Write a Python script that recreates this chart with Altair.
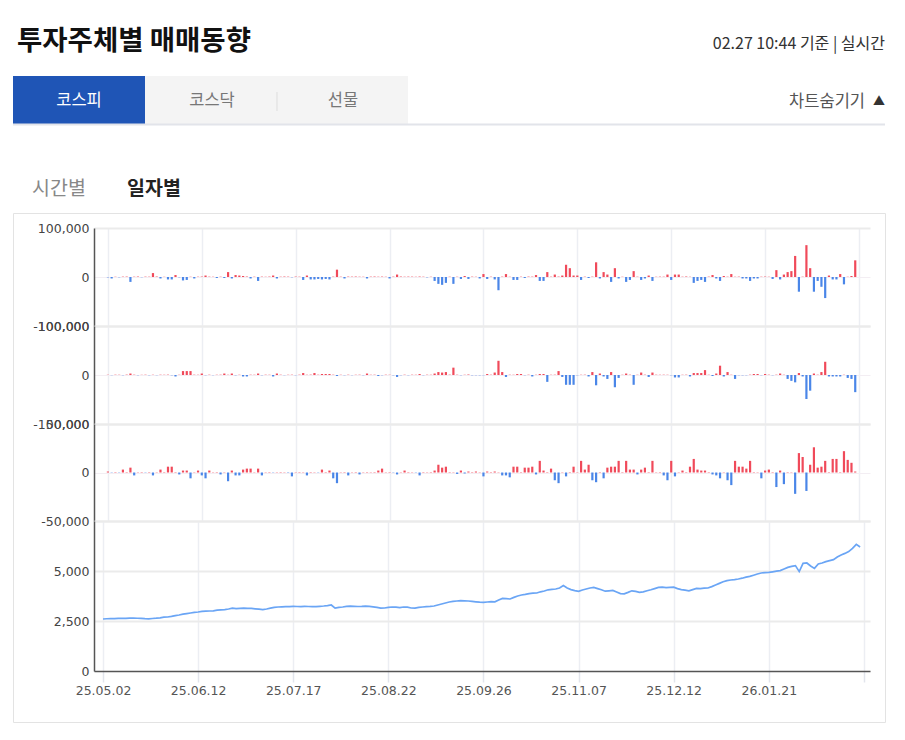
import altair as alt
import pandas as pd

# ---------------- data ----------------
tick_labels = ["25.05.02", "25.06.12", "25.07.17", "25.08.22", "25.09.26",
               "25.11.07", "25.12.12", "26.01.21", ""]
tick_step = 25

# panel 1 (top bars)
p1 = [
    -800, -3000, 500, -600, 700, 800, -10000, 600, 900, -500,
    700, 600, 8000, 900, -3000, 400, -5000, -5000, 4000, -700,
    -7000, -6000, 500, -3000, 600, 800, 3000, 700, 500, -2000,
    600, -2000, 10000, -3000, 4000, 3000, 2000, 900, -3000, 600,
    -8000, 700, 500, 800, 3000, -3000, 600, 900, 700, -600,
    800, 600, -6000, 3000, -5000, -5000, -4000, -5000, -4000, -5000,
    700, 15000, 600, -3000, 800, 700, 900, 600, 500, -3000,
    700, 900, 600, 800, 500, -3000, 700, 5000, 900, 600,
    800, 700, 500, 900, 600, -700, 500, -8000, -14000, -16000,
    -12000, 600, -14000, 500, -4000, 2000, -4000, 700, 500, -3000,
    6000, -4000, 600, -5000, -27000, 700, 6000, 500, -6000, -6000,
    600, -2000, 800, 700, 4000, -8000, -8000, 10000, 600, 5000,
    800, 3000, 25000, 18000, 3000, 3000, -6000, 600, -2000, 700,
    30000, -3000, 10000, 5000, -10000, 18000, -3000, 500, -10000, -6000,
    12000, 600, -6000, -3000, 3000, -8000, 500, 700, 600, 5000,
    -6000, 5000, 5000, 600, 1000, 500, -12000, -8000, -6000, -10000,
    700, 4000, -3000, -8000, 2000, 600, 6000, 500, 700, -3000,
    -3000, -8000, -3000, -3000, 600, 800, 500, -4000, 14000, -5000,
    5000, 10000, 12000, 43000, -30000, 600, 65000, 18000, -30000, -8000,
    -20000, -43000, 3000, -5000, -5000, 6000, -15000, 500, 2000, 34000,
]

# panel 2 (middle bars)
p2 = [
    500, -400, 600, 500, -500, 700, 3000, 600, -500, 400,
    600, -500, 500, -400, 600, 500, 700, -600, -3000, 500,
    8000, 8000, 8000, 600, 500, 3000, -500, 600, -400, 500,
    600, 3000, 500, 3000, -600, 500, -3000, -3000, 600, 500,
    3000, -500, 600, 500, -3000, 3000, 600, -400, 500, 600,
    -500, 600, 4000, 500, 700, 4000, 600, 2000, 2000, 2000,
    600, -2000, 500, -500, 600, -400, 500, 600, -500, 3000,
    500, 600, -2000, -500, 600, 500, -600, -4000, -500, 600,
    -500, 600, 500, 2000, -500, 600, 500, 3000, 6000, 5000,
    6000, 700, 15000, 600, -500, 500, 1000, -600, -500, -600,
    -500, 2000, 600, 5000, 29000, 6000, -4000, 600, 500, 2000,
    2000, -500, 600, -3000, 500, 2000, 2000, -14000, 500, 600,
    8000, -4000, -20000, -20000, -20000, -600, 500, 600, -3000, 6000,
    -21000, 3000, -3000, -8000, 6000, -25000, -6000, 500, 3000, 600,
    -20000, 500, 5000, 600, -4000, 5000, 600, 500, 600, 500,
    -600, -5000, -5000, 500, 600, -3000, 4000, 4000, 4000, 10000,
    500, -2000, 3000, 19000, -3000, 6000, 500, -8000, -500, -600,
    -500, 600, 2000, 2000, -500, 2000, 600, -500, 600, 3000,
    500, -8000, -12000, -15000, 4000, -3000, -49000, -32000, 3000, 600,
    6000, 27000, -3000, -3000, -3000, -3000, 500, -6000, -8000, -35000,
]

# panel 3 (lower bars)
p3 = [
    1000, -300, 400, -300, 3000, 400, 5000, -3000, 300, 400,
    -300, 400, -3000, 300, 3000, 400, 6000, 6000, 400, -2000,
    2000, 2000, -6000, 300, 2000, -3000, -6000, 2000, 300, 400,
    -2000, 300, -9000, 2000, -3000, -3000, 3000, 4000, 4000, 300,
    4000, -3000, 300, 400, -300, 300, 400, 300, -400, -4000,
    300, 400, 300, -3000, 400, 300, -300, 3000, 400, 2000,
    -6000, -11000, 300, 400, -3000, 300, 400, -2000, 300, 400,
    300, 400, 2000, 4000, 300, 400, -300, -2000, 300, 2000,
    400, 300, -300, -3000, 400, 300, 400, 2000, 8000, 5000,
    6000, 400, 300, -1500, 2000, -1000, 1000, 400, 1000, 300,
    -4000, 1000, 400, 1000, 300, -3000, -3000, -5000, 6000, 6000,
    400, 5000, 5000, 6000, -2000, 12000, 2000, 400, 4000, -8000,
    -11000, 300, -4000, 400, 6000, 300, 12000, 3000, 8000, -8000,
    -10000, 400, -6000, 5000, 6000, 6000, 12000, 400, 12000, 3000,
    3000, -2000, 3000, 5000, 400, 12000, 300, 400, -3000, -8000,
    12000, -4000, 300, 2000, 400, 6000, 14000, 3000, 2000, 2000,
    400, -2000, -3000, -6000, 300, -8000, -13000, 12000, 6000, 6000,
    4000, 12000, 400, 300, -6000, 2000, 3000, 400, -15000, 2000,
    -12000, 400, 300, -22000, 20000, 16000, -19000, 8000, 26000, 5000,
    6000, 12000, 400, 14000, 14000, 400, 22000, 13000, 10000, 1000,
]

# index line (bottom panel)
idx_line = [
    2600, 2612, 2620, 2615, 2628, 2635, 2630, 2640, 2645, 2638,
    2632, 2618, 2610, 2625, 2640, 2660, 2690, 2700, 2730, 2770,
    2800, 2840, 2870, 2900, 2930, 2950, 2980, 2990, 3000, 3010,
    3040, 3060, 3070, 3100, 3140, 3120, 3130, 3140, 3135, 3130,
    3110, 3090, 3070, 3100, 3140, 3180, 3200, 3210, 3220, 3215,
    3230, 3225, 3220, 3230, 3225, 3215, 3220, 3235, 3250, 3270,
    3300, 3140, 3180, 3200, 3230, 3240, 3235, 3225, 3230, 3240,
    3230, 3210, 3180, 3140, 3150, 3180, 3200, 3190, 3170, 3200,
    3190, 3150, 3140, 3180, 3200, 3220, 3230, 3250, 3300, 3350,
    3400, 3450, 3480, 3500, 3520, 3510, 3500, 3480, 3460, 3440,
    3430, 3450, 3470, 3460, 3550, 3630, 3620, 3600, 3680, 3750,
    3800, 3830, 3870, 3890, 3900, 3960, 4000, 4060, 4080, 4100,
    4150, 4270, 4150, 4070, 4020, 3980, 4050, 4100, 4150, 4180,
    4120, 4060, 3990, 4010, 4030, 3950, 3870, 3860, 3930, 4010,
    3980, 3930, 3960, 4010, 4060, 4120, 4180, 4190, 4170, 4180,
    4190, 4120, 4070, 4040, 4010, 4070, 4130, 4120, 4140, 4150,
    4220, 4300, 4380, 4460, 4520, 4550, 4570, 4600, 4640, 4690,
    4730, 4790, 4850, 4900, 4920, 4930, 4960, 4990, 5020, 5100,
    5180, 5230, 5270, 4970, 5380, 5400, 5250, 5130, 5350, 5400,
    5470, 5520, 5570, 5700, 5800, 5880, 5970, 6130, 6330, 6200,
]

title_text = ["투자주체별 매매동향"]
stamp_text = ["02.27 10:44 기준 | 실시간"]
tab_texts = ["코스피", "코스닥", "선물"]
toggle_text = ["차트숨기기", "▲"]
mode_texts = ["시간별", "일자별"]

# ---------------- styling ----------------
W = 776
RED = "#f04a5a"
BLUE = "#4a86e8"
LINE = "#6aa5f5"
NUM_FONT = "DejaVu Sans"
KR_FONT = "Noto Sans CJK KR"
XDOM = [-2.37, 201.6]
tick_vals = [i * tick_step for i in range(len(tick_labels))]
label_arr = "[" + ",".join("'" + t + "'" for t in tick_labels) + "]"
x_label_expr = label_arr + "[round(datum.value/" + str(tick_step) + ")]"
num_expr = "datum.value < 0 ? '-' + format(-datum.value, ',') : format(datum.value, ',')"

grid_color = {"condition": {"test": "datum.value === 0", "value": "#f3eef3"}, "value": "#ebebeb"}
grid_width = {"condition": {"test": "datum.value === 0", "value": 1}, "value": 2}


def x_axis(bottom):
    if bottom:
        return alt.Axis(values=tick_vals, labelExpr=x_label_expr, grid=True,
                        gridColor="#eceef3", gridWidth=1.5, domainColor="#555555",
                        domainWidth=1.5, tickColor="#e2e5ec", tickWidth=1.5, tickSize=11,
                        labelPadding=2, labelFlush=False, labelFont=NUM_FONT,
                        labelFontSize=12.5, labelColor="#555555", title=None)
    return alt.Axis(values=tick_vals, labels=False, ticks=False, domain=False, grid=True,
                    gridColor="#eceef3", gridWidth=1.5, title=None)


def y_axis(vals, expr=num_expr):
    return alt.Axis(values=vals, labelExpr=expr, grid=True, gridColor=grid_color,
                    gridWidth=grid_width, domainColor="#555555", domainWidth=1.5,
                    ticks=False, labelPadding=5, labelFont=NUM_FONT, labelFontSize=12.5,
                    labelColor="#444444", title=None)


def bar_panel(values, lim, h):
    df = pd.DataFrame({"i": list(range(len(values))), "v": values})
    return alt.Chart(df).mark_bar(size=2.2).encode(
        x=alt.X("i:Q", scale=alt.Scale(domain=XDOM, nice=False, zero=False), axis=x_axis(False)),
        y=alt.Y("v:Q", scale=alt.Scale(domain=[-lim, lim], nice=False),
                axis=y_axis([lim, 0, -lim])),
        color=alt.condition("datum.v > 0", alt.value(RED), alt.value(BLUE)),
    ).properties(width=W, height=h)


panel1 = bar_panel(p1, 100000, 98)
panel2 = bar_panel(p2, 100000, 98)
panel3 = bar_panel(p3, 50000, 97)

line_df = pd.DataFrame({"i": list(range(len(idx_line))), "v": idx_line})
panel4 = alt.Chart(line_df).mark_line(color=LINE, strokeWidth=1.7).encode(
    x=alt.X("i:Q", scale=alt.Scale(domain=XDOM, nice=False, zero=False), axis=x_axis(True)),
    y=alt.Y("v:Q", scale=alt.Scale(domain=[0, 7500], nice=False),
            axis=y_axis([0, 2500, 5000, 7500],
                        "datum.value == 7500 ? '' : format(datum.value, ',')")),
).properties(width=W, height=150)

# ---------------- header / frame (origin = page (94, 8)) ----------------
OX, OY = 94, 8


def px(v):
    return alt.value(v - OX)


def py(v):
    return alt.value(v - OY)


one = pd.DataFrame({"k": [0]})


def txt(text, x, y, size, color, align="left", weight="normal"):
    return alt.Chart(pd.DataFrame({"t": [text]})).mark_text(
        align=align, baseline="middle", font=KR_FONT, fontSize=size,
        fontWeight=weight, color=color).encode(text="t:N", x=px(x), y=py(y))


def rect(x1, x2, y1, y2, fill, stroke=None):
    kw = dict(fill=fill)
    if stroke:
        kw.update(stroke=stroke, strokeWidth=1)
    return alt.Chart(one).mark_rect(**kw).encode(x=px(x1), x2=px(x2), y=py(y1), y2=py(y2))


def hline(x1, x2, y, color, w):
    return alt.Chart(one).mark_rule(color=color, strokeWidth=w).encode(
        x=px(x1), x2=px(x2), y=py(y))


def vline(x, y1, y2, color, w):
    return alt.Chart(one).mark_rule(color=color, strokeWidth=w).encode(
        x=px(x), y=py(y1), y2=py(y2))


header = alt.layer(
    rect(8, 897, 8, 732, "transparent"),
    rect(13.5, 885.5, 213.5, 722.5, "transparent", "#e3e3e3"),
    txt(title_text[0], 17, 42, 27.5, "#111111", weight="bold"),
    txt(stamp_text[0], 885, 44, 16, "#333333", align="right"),
    rect(145, 408, 76, 124, "#f4f4f4"),
    rect(13, 145, 76, 124, "#1f55b6"),
    hline(13, 885, 124.5, "#e2e4ea", 2),
    vline(277, 92, 111, "#dddddd", 1),
    txt(tab_texts[0], 79, 101, 16.5, "#ffffff", align="center"),
    txt(tab_texts[1], 212, 101, 16.5, "#777777", align="center"),
    txt(tab_texts[2], 343, 101, 16.5, "#777777", align="center"),
    txt(toggle_text[0], 865, 102, 16.5, "#555555", align="right"),
    txt(toggle_text[1], 885, 102, 12, "#333333", align="right"),
    txt(mode_texts[0], 32, 189, 19.5, "#888888"),
    txt(mode_texts[1], 127, 189, 19.5, "#222222", weight="bold"),
).properties(width=W, height=220)

chart = alt.vconcat(header, panel1, panel2, panel3, panel4, spacing=0, bounds="flush").properties(
    padding=0, background="#ffffff"
).configure_view(strokeWidth=0)

chart.save("out.html", embed_options={"renderer": "svg", "actions": False})
